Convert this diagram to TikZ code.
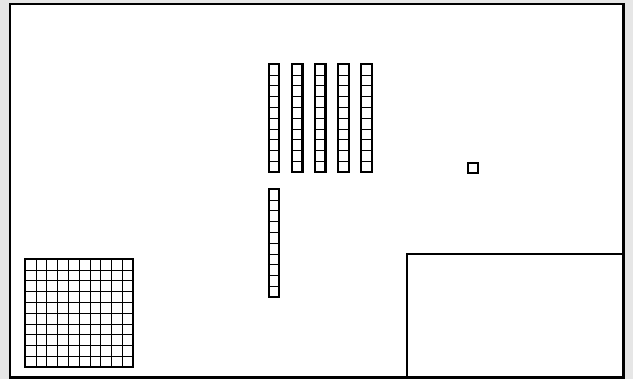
\documentclass[tikz,border=0pt]{standalone}
\definecolor{bg}{HTML}{E6E6E6}
\tikzset{
  frame/.style={draw=black, line width=2.2pt, fill=white},
  cellline/.style={draw=black, line width=1.1pt},
  thick box/.style={draw=black, line width=2.2pt},
}
\begin{document}
\begin{tikzpicture}[x=1pt, y=-1pt]
\fill[bg] (0,0) rectangle (633,379);
\useasboundingbox (0,0) rectangle (633,379);
% outer frame
\draw[frame] (10,4) rectangle (623.5,377.5);
% bottom-right box
\draw[thick box] (407.3,254) rectangle (623.5,377.5);
% five bars
\foreach \i in {0,...,4}{
  \pgfmathsetmacro{\xx}{268.7+23.1*\i}
  \foreach \k in {1,...,9}{
    \draw[cellline] (\xx,64.3+10.8*\k) -- (\xx+10.6,64.3+10.8*\k);
  }
  \draw[thick box] (\xx,64.3) rectangle (\xx+10.6,172.3);
}
% single bar
\foreach \k in {1,...,9}{
  \draw[cellline] (268.7,189.3+10.8*\k) -- (279.3,189.3+10.8*\k);
}
\draw[thick box] (268.7,189.3) rectangle (279.3,297.3);
% grid
\foreach \k in {1,...,9}{
  \draw[cellline] (25.3+10.8*\k,259.3) -- (25.3+10.8*\k,367.3);
  \draw[cellline] (25.3,259.3+10.8*\k) -- (133.3,259.3+10.8*\k);
}
\draw[thick box] (25.3,259.3) rectangle (133.3,367.3);
% small square
\draw[thick box] (468.3,163.3) rectangle (478.3,173.3);
\end{tikzpicture}
\end{document}
